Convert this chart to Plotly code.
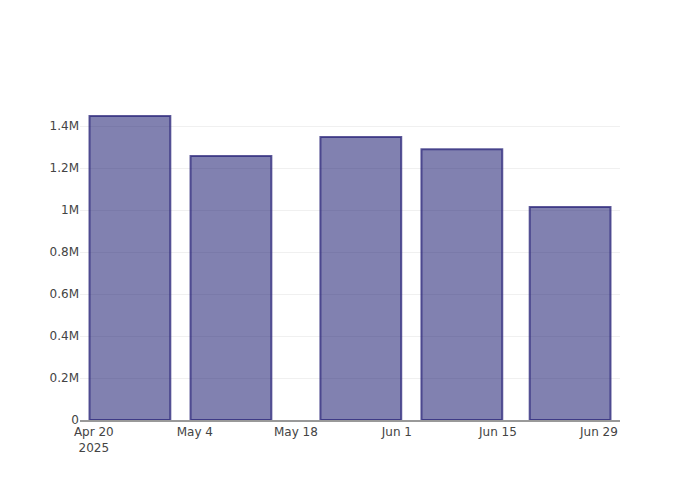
import plotly.graph_objects as go

dates = ["2025-04-25", "2025-05-09", "2025-05-27", "2025-06-10", "2025-06-25"]
values = [1448000, 1257000, 1348000, 1290000, 1014000]
x_range = ["2025-04-18 02:00", "2025-07-01 22:00"]

fig = go.Figure(
    go.Bar(
        x=dates,
        y=values,
        marker=dict(
            color="rgba(25,25,112,0.55)",
            line=dict(color="rgba(40,35,120,0.75)", width=2),
        ),
    )
)
fig.update_layout(
    template="plotly_white",
    width=700,
    height=500,
    margin=dict(l=72, r=88, t=92, b=88),
    showlegend=False,
    font=dict(family="DejaVu Sans", size=12, color="#444"),
)
fig.update_xaxes(range=x_range, showline=True, linecolor="#999", linewidth=1.5, showgrid=False)
fig.update_yaxes(showgrid=True, gridcolor="#f0f0f0", zeroline=False)
fig.write_html("out.html")
